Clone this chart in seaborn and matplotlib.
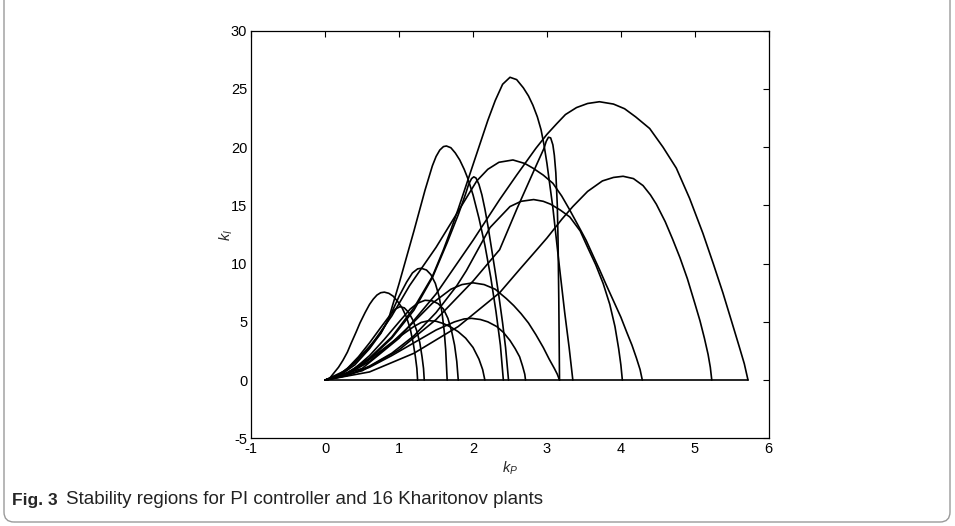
import numpy as np
import pandas as pd
import matplotlib
matplotlib.use("Agg")
import matplotlib.pyplot as plt
import seaborn as sns
from matplotlib.patches import FancyBboxPatch

# ---- data (kP, kI boundary points of each plant) ----
p1_kp = [0, 0.06, 0.11, 0.18, 0.24, 0.30, 0.35, 0.42, 0.47, 0.54, 0.60, 0.65, 0.70, 0.75, 0.80, 0.86, 0.92, 0.98, 1.04, 1.10, 1.15, 1.19, 1.22, 1.24, 1.25]
p1_ki = [0, 0.15, 0.55, 1.1, 1.7, 2.4, 3.15, 4.15, 4.9, 5.8, 6.5, 6.95, 7.3, 7.5, 7.55, 7.45, 7.2, 6.75, 6.2, 5.4, 4.4, 3.2, 2.0, 1.0, 0]

p2_kp = [0, 0.15, 0.30, 0.45, 0.60, 0.75, 0.88, 0.95, 1.01, 1.07, 1.13, 1.19, 1.24, 1.28, 1.31, 1.33, 1.34]
p2_ki = [0, 0.3, 1.0, 2.0, 3.2, 4.5, 5.6, 6.1, 6.3, 6.2, 5.8, 5.1, 4.2, 3.2, 2.0, 1.0, 0]

p3_kp = [0, 0.20, 0.40, 0.60, 0.75, 0.87, 1.00, 1.10, 1.18, 1.25, 1.30, 1.37, 1.43, 1.49, 1.54, 1.58, 1.61, 1.63, 1.65]
p3_ki = [0, 0.4, 1.3, 2.7, 4.0, 5.4, 7.2, 8.4, 9.2, 9.55, 9.6, 9.45, 9.05, 8.3, 7.2, 5.8, 4.2, 2.6, 0]

p4_kp = [0, 0.20, 0.40, 0.60, 0.80, 1.00, 1.15, 1.25, 1.35, 1.45, 1.53, 1.60, 1.66, 1.71, 1.75, 1.78, 1.80]
p4_ki = [0, 0.3, 1.0, 2.1, 3.5, 5.0, 6.1, 6.6, 6.85, 6.8, 6.55, 6.1, 5.3, 4.2, 3.0, 1.6, 0]

p5_kp = [0, 0.25, 0.50, 0.75, 1.00, 1.20, 1.30, 1.40, 1.50, 1.60, 1.70, 1.80, 1.90, 2.00, 2.08, 2.13, 2.16]
p5_ki = [0, 0.4, 1.3, 2.5, 3.7, 4.6, 4.95, 5.1, 5.05, 4.85, 4.55, 4.15, 3.6, 2.8, 1.8, 0.9, 0]

p6_kp = [0, 0.30, 0.60, 0.90, 1.20, 1.45, 1.70, 1.85, 2.00, 2.15, 2.30, 2.45, 2.55, 2.65, 2.75, 2.85, 2.95, 3.03, 3.10, 3.14, 3.17]
p6_ki = [0, 0.5, 1.6, 3.2, 5.0, 6.6, 7.8, 8.2, 8.35, 8.2, 7.8, 7.0, 6.4, 5.7, 4.9, 3.9, 2.8, 1.8, 1.0, 0.5, 0]

p7_kp = [0, 0.30, 0.60, 0.90, 1.20, 1.50, 1.75, 1.88, 1.98, 2.10, 2.20, 2.32, 2.41, 2.50, 2.57, 2.63, 2.67, 2.70, 2.71]
p7_ki = [0, 0.4, 1.1, 2.1, 3.2, 4.3, 5.0, 5.25, 5.3, 5.2, 5.0, 4.6, 4.1, 3.4, 2.7, 2.0, 1.2, 0.5, 0]

p8_kp = [0, 0.20, 0.40, 0.60, 0.75, 0.85, 1.00, 1.20, 1.35, 1.45, 1.50, 1.55, 1.60, 1.64, 1.70, 1.76, 1.82, 1.88, 1.93, 2.00, 2.08, 2.16, 2.24, 2.31, 2.37, 2.41]
p8_ki = [0, 0.5, 1.5, 2.9, 4.0, 5.1, 8.3, 12.8, 16.3, 18.4, 19.2, 19.75, 20.05, 20.1, 19.95, 19.5, 18.9, 18.1, 17.3, 15.9, 13.9, 11.6, 8.8, 5.9, 3.0, 0]

p9_kp = [0, 0.30, 0.60, 0.90, 1.20, 1.45, 1.65, 1.80, 1.90, 1.94, 1.98, 2.01, 2.04, 2.08, 2.12, 2.16, 2.20, 2.25, 2.30, 2.35, 2.40, 2.44, 2.48]
p9_ki = [0, 0.6, 1.8, 3.6, 6.0, 8.8, 11.8, 14.2, 16.0, 16.8, 17.3, 17.45, 17.35, 16.8, 15.9, 14.7, 13.3, 11.3, 9.3, 7.2, 4.9, 2.8, 0]

pa_kp = [0, 0.30, 0.60, 0.90, 1.20, 1.45, 1.60, 1.70, 1.80, 1.90, 2.00, 2.10, 2.20, 2.30, 2.40, 2.50, 2.59, 2.68, 2.75, 2.81, 2.87, 2.92, 2.96, 3.00, 3.08, 3.16, 3.24, 3.30, 3.35]
pa_ki = [0, 0.6, 1.9, 3.7, 6.2, 8.9, 11.2, 12.9, 14.7, 16.6, 18.5, 20.4, 22.3, 24.0, 25.4, 26.0, 25.8, 25.1, 24.4, 23.6, 22.6, 21.5, 20.2, 18.6, 14.8, 10.2, 5.8, 2.8, 0]

pb_kp = [0, 0.50, 1.00, 1.50, 2.00, 2.36, 2.60, 2.86, 2.96, 2.99, 3.02, 3.05, 3.08, 3.10, 3.12, 3.14, 3.15, 3.16, 3.17]
pb_ki = [0, 0.8, 2.6, 5.2, 8.5, 11.2, 14.8, 18.5, 19.9, 20.5, 20.85, 20.8, 20.2, 19.3, 17.8, 15.0, 12.0, 7.0, 0]

pc_kp = [0, 0.30, 0.60, 0.90, 1.14, 1.50, 1.80, 2.05, 2.20, 2.35, 2.54, 2.70, 2.81, 2.95, 3.08, 3.20, 3.30, 3.42, 3.53, 3.63, 3.71, 3.80, 3.90, 4.00, 4.08, 4.15, 4.21, 4.26, 4.29]
pc_ki = [0, 0.9, 2.8, 5.5, 8.1, 11.4, 14.5, 17.1, 18.1, 18.7, 18.9, 18.6, 18.2, 17.6, 16.9, 15.8, 14.7, 13.3, 12.0, 10.6, 9.5, 8.2, 6.8, 5.4, 4.1, 3.0, 1.9, 0.9, 0]

pd_kp = [0, 0.30, 0.60, 0.90, 1.20, 1.50, 1.78, 1.91, 2.23, 2.50, 2.65, 2.82, 2.95, 3.05, 3.18, 3.31, 3.45, 3.55, 3.66, 3.76, 3.85, 3.92, 3.97, 4.00, 4.02]
pd_ki = [0, 0.4, 1.2, 2.3, 3.8, 5.8, 8.1, 9.4, 13.1, 14.9, 15.35, 15.5, 15.35, 15.1, 14.6, 14.0, 12.8, 11.4, 9.9, 8.3, 6.5, 4.6, 2.7, 1.3, 0]

pe_kp = [0, 0.50, 1.00, 1.50, 2.00, 2.36, 2.59, 2.85, 3.00, 3.13, 3.25, 3.40, 3.55, 3.71, 3.90, 4.05, 4.20, 4.39, 4.57, 4.75, 4.93, 5.11, 5.25, 5.38, 5.50, 5.60, 5.67, 5.72]
pe_ki = [0, 1.0, 3.6, 7.4, 12.0, 15.5, 17.6, 19.9, 21.1, 22.0, 22.8, 23.4, 23.75, 23.9, 23.7, 23.3, 22.6, 21.6, 20.0, 18.2, 15.6, 12.6, 10.0, 7.5, 5.0, 2.9, 1.4, 0]

pf_kp = [0, 0.60, 1.20, 1.80, 2.36, 2.63, 2.85, 3.00, 3.20, 3.35, 3.55, 3.75, 3.90, 4.03, 4.17, 4.30, 4.40, 4.48, 4.60, 4.70, 4.80, 4.90, 5.00, 5.07, 5.13, 5.18, 5.21, 5.23]
pf_ki = [0, 0.7, 2.3, 4.6, 7.5, 9.5, 11.1, 12.2, 13.8, 14.9, 16.2, 17.1, 17.4, 17.5, 17.3, 16.7, 15.9, 15.1, 13.6, 12.1, 10.5, 8.7, 6.6, 5.1, 3.6, 2.2, 1.1, 0]

base_kp = [0, 5.72]
base_ki = [0, 0]

x_ticks = [-1, 0, 1, 2, 3, 4, 5, 6]
y_ticks = [-5, 0, 5, 10, 15, 20, 25, 30]

curves = {
    "p1": (p1_kp, p1_ki), "p2": (p2_kp, p2_ki), "p3": (p3_kp, p3_ki),
    "p4": (p4_kp, p4_ki), "p5": (p5_kp, p5_ki), "p6": (p6_kp, p6_ki),
    "p7": (p7_kp, p7_ki), "p8": (p8_kp, p8_ki), "p9": (p9_kp, p9_ki),
    "pa": (pa_kp, pa_ki), "pb": (pb_kp, pb_ki), "pc": (pc_kp, pc_ki),
    "pd": (pd_kp, pd_ki), "pe": (pe_kp, pe_ki), "pf": (pf_kp, pf_ki),
    "base": (base_kp, base_ki),
}
frames = []
for name, (kp, ki) in curves.items():
    frames.append(pd.DataFrame({"kP": kp, "kI": ki, "curve": name}))
df = pd.concat(frames, ignore_index=True)

# ---- styling ----
sns.set_theme(style="white")
plt.rcParams["font.family"] = ["Liberation Sans", "DejaVu Sans"]
plt.rcParams["mathtext.fontset"] = "custom"
plt.rcParams["mathtext.it"] = "Liberation Sans:italic"
plt.rcParams["mathtext.rm"] = "Liberation Sans"

fig = plt.figure(figsize=(9.55, 5.26), dpi=100)
fig.patch.set_facecolor("white")
ax = fig.add_axes([251.3 / 955, 1 - 438.3 / 526, (768.7 - 251.3) / 955, (438.3 - 30.7) / 526])

sns.lineplot(data=df, x="kP", y="kI", units="curve", estimator=None, sort=False,
             color="black", linewidth=1.2, ax=ax, legend=False)
for ln in ax.lines:
    ln.set_solid_joinstyle("round")

ax.set_xlim(-1, 6)
ax.set_ylim(-5, 30)
ax.set_xticks(x_ticks)
ax.set_yticks(y_ticks)
ax.set_xticklabels([str(t) for t in x_ticks])
ax.set_yticklabels([str(t) for t in y_ticks])
ax.tick_params(direction="in", top=True, right=True, length=4, width=0.8,
               labelsize=10.5, colors="black", pad=3)
for s in ax.spines.values():
    s.set_visible(True)
    s.set_color("black")
    s.set_linewidth(0.9)
ax.set_facecolor("white")
ax.set_xlabel("$k_P$", fontsize=10.5, labelpad=2)
ax.set_ylabel("$k_I$", fontsize=10.5, labelpad=-3)

# caption
cap_fam = ["Liberation Sans Narrow", "Liberation Sans", "DejaVu Sans"]
fig.text(12 / 955, 1 - 500 / 526, "Fig. 3", fontsize=12.5, fontweight="bold",
         family=cap_fam, va="center")
fig.text(66 / 955, 1 - 500 / 526,
         "Stability regions for PI controller and 16 Kharitonov plants",
         fontsize=13.5, family=cap_fam, va="center", color="#222222")

# rounded frame around the figure
frame = FancyBboxPatch((4, 4), 946, 580, boxstyle="round,pad=0,rounding_size=10",
                       transform=None, fill=False, edgecolor="#9a9a9a", linewidth=1.0)
fig.patches.append(frame)

fig.savefig("out.png", dpi=100)
